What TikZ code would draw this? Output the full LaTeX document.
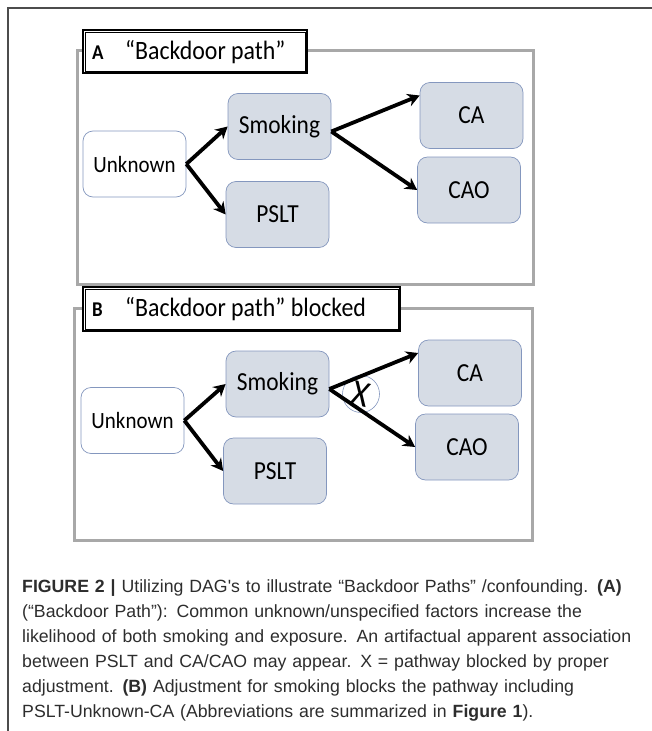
\documentclass[tikz,border=0pt]{standalone}
\usepackage{fontspec}
\setmainfont{Carlito}[FakeStretch=0.9]
\newfontfamily\capfont{Liberation Sans}
\usetikzlibrary{arrows.meta,positioning}
\definecolor{boxfill}{RGB}{214,220,229}
\definecolor{boxline}{RGB}{132,151,190}
\definecolor{framegray}{RGB}{168,168,168}
\definecolor{capgray}{RGB}{45,45,45}

\begin{document}
\begin{tikzpicture}[x=1pt, y=-1pt,
  frame/.style={draw=framegray, line width=3pt},
  titlebox/.style={draw, fill=white, line width=2pt, anchor=north west, inner sep=0pt},
  var/.style={draw=boxline, fill=boxfill, rounded corners=10pt, line width=0.7pt,
    minimum width=103pt, minimum height=66pt, font=\fontsize{26}{30}\selectfont},
  latent/.style={var, fill=white, font=\fontsize{23.3}{28}\selectfont},
  cause/.style={-{Stealth[length=12pt,width=13pt]}, line width=3.8pt},
  headtext/.style={anchor=base west, inner sep=0pt, font=\fontsize{26.5}{30}\selectfont}
]
\useasboundingbox (0,0) rectangle (652,731);
% Figure border
\draw[black!70, line width=1.2pt] (652,8) -- (8,8) -- (8,731);

% Panel A
\draw[frame] (77,50) rectangle (533,284);
\node[titlebox, minimum width=224pt, minimum height=43pt] (headA) at (82,29) {};
\draw[line width=0.8pt] ([shift={(3pt,-3pt)}]headA.north west) rectangle ([shift={(-3pt,3pt)}]headA.south east);
\node[headtext, font=\fontsize{21}{24}\selectfont\bfseries] at (92,59.5) {A};
\node[headtext] at (125,59.5) {“Backdoor path”};

\node[latent] (unkA) at (134.5,164) {Unknown};
\node[var] (smkA) at (279.5,126.5) {Smoking};
\node[var] (psltA) at (277.5,214.5) {PSLT};
\node[var] (caA) at (471.5,115.5) {CA};
\node[var] (caoA) at (469,190) {CAO};

\draw[cause] (unkA.east) -- (smkA.west);
\draw[cause] (unkA.east) -- (psltA.west);
\draw[cause] ([yshift=-5pt]smkA.east) -- ([yshift=20pt]caA.west);
\draw[cause] ([yshift=-5pt]smkA.east) -- (caoA.west);

% Panel B
\draw[frame] (74,308) rectangle (532,540);
\node[titlebox, minimum width=317pt, minimum height=44pt] (headB) at (82,286) {};
\draw[line width=0.8pt] ([shift={(3pt,-3pt)}]headB.north west) rectangle ([shift={(-3pt,3pt)}]headB.south east);
\node[headtext, font=\fontsize{21}{24}\selectfont\bfseries] at (92,316.5) {B};
\node[headtext] at (125,316.5) {“Backdoor path” blocked};

\node[latent] (unkB) at (132.5,420.5) {Unknown};
\node[var] (smkB) at (277.5,384) {Smoking};
\node[var] (psltB) at (275,471) {PSLT};
\node[var] (caB) at (470,373) {CA};
\node[var] (caoB) at (467,447) {CAO};

\node[circle, draw=boxline, line width=0.6pt, minimum size=37pt] (blk) at (361,394) {};
\draw[cause] (unkB.east) -- (smkB.west);
\draw[cause] (unkB.east) -- (psltB.west);
\draw[cause] ([yshift=-5pt]smkB.east) -- ([yshift=20pt]caB.west);
\draw[cause] ([yshift=-5pt]smkB.east) -- (caoB.west);
\node[font=\fontsize{37}{37}\selectfont, rotate=-14, inner sep=0pt] (cross) at (blk) {X};

% Caption
\node[anchor=north west, inner sep=0pt, text width=628pt, align=left, text=capgray,
  font=\capfont\fontsize{17.7}{25}\selectfont] (cap) at (22,579.3)
  {{\bfseries FIGURE 2 |} Utilizing DAG's to illustrate “Backdoor Paths” /confounding. {\bfseries (A)}\\
   (“Backdoor Path”): Common unknown/unspecified factors increase the\\
   likelihood of both smoking and exposure. An artifactual apparent association\\
   between PSLT and CA/CAO may appear. X = pathway blocked by proper\\
   adjustment. {\bfseries (B)} Adjustment for smoking blocks the pathway including\\
   PSLT-Unknown-CA (Abbreviations are summarized in {\bfseries Figure 1}).};
\end{tikzpicture}
\end{document}
